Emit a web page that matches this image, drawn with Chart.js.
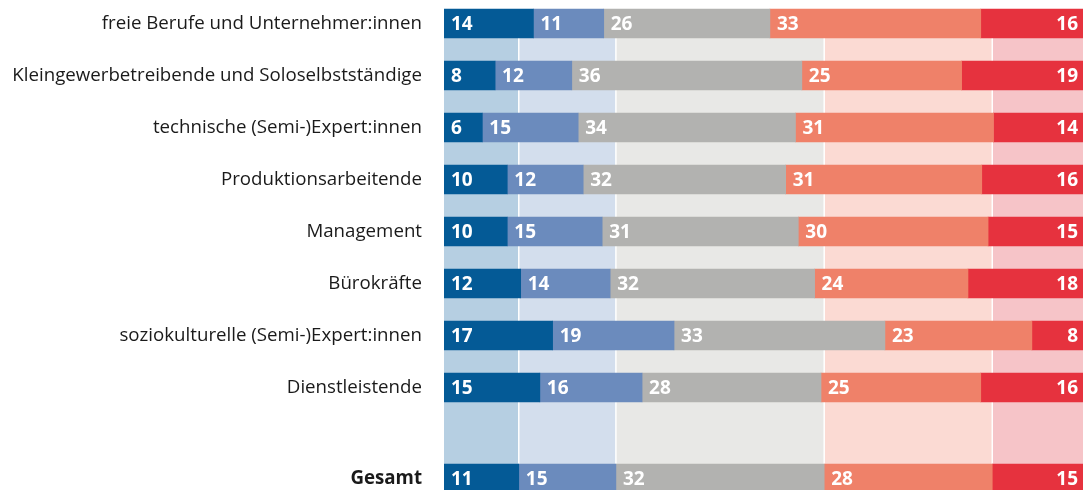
<!DOCTYPE html>
<html>
<head>
<meta charset="utf-8">
<script src="https://cdn.jsdelivr.net/npm/chart.js@4"></script>
<style>
  html, body { margin: 0; padding: 0; background: #fff; }
  #wrap { width: 1083px; height: 490px; }
</style>
</head>
<body>
<div id="wrap"><canvas id="chart"></canvas></div>
<script>
// categories (top to bottom), last one is the total
const kategorien = [
  "freie Berufe und Unternehmer:innen",
  "Kleingewerbetreibende und Soloselbstständige",
  "technische (Semi-)Expert:innen",
  "Produktionsarbeitende",
  "Management",
  "Bürokräfte",
  "soziokulturelle (Semi-)Expert:innen",
  "Dienstleistende",
  "Gesamt"
];
// row positions on the y scale (gap before Gesamt)
const zeilen = [0, 1, 2, 3, 4, 5, 6, 7, 8.75];

// values in percent, one array per answer group (printed numbers)
const stufe1 = [14, 8, 6, 10, 10, 12, 17, 15, 11];
const stufe2 = [11, 12, 15, 12, 15, 14, 19, 16, 15];
const stufe3 = [26, 36, 34, 32, 31, 32, 33, 28, 32];
const stufe4 = [33, 25, 31, 31, 30, 24, 23, 25, 28];
const stufe5 = [16, 19, 14, 16, 15, 18, 8, 16, 15];
// the Gesamt bar is drawn wider/narrower than its printed numbers
const gesamtAnteile = [11.7, 15.2, 32.6, 26.3, 14.2];

const serien = [stufe1, stufe2, stufe3, stufe4, stufe5];
const farben = ["#045a96", "#6b8bbd", "#b2b2b0", "#ef8169", "#e6323e"];
const hell = ["#b6cfe2", "#d3deed", "#e8e8e6", "#fbdad3", "#f6c4c8"];
const dicke = 29;
const g = kategorien.length - 1;

// rows add up to 100 or 101, so scale every row to 100
const summen = kategorien.map((k, i) => serien.reduce((s, r) => s + r[i], 0));
function anteil(s, i) {
  if (i === g) return gesamtAnteile[s];
  return serien[s][i] / summen[i] * 100;
}

const datasets = serien.map((werte, s) => ({
  label: "Stufe " + (s + 1),
  data: werte.map((v, i) => ({ x: anteil(s, i), y: zeilen[i] })),
  backgroundColor: farben[s],
  borderWidth: 0,
  barThickness: dicke,
  werte: werte
}));

// light background columns taken from the Gesamt row
const baender = {
  id: "baender",
  beforeDatasetsDraw(chart) {
    const ctx = chart.ctx;
    const xs = chart.scales.x, ys = chart.scales.y;
    const oben = ys.getPixelForValue(zeilen[0]) - dicke / 2;
    const unten = chart.chartArea.bottom;
    let kum = 0;
    ctx.save();
    serien.forEach((r, s) => {
      const x0 = xs.getPixelForValue(kum);
      kum += anteil(s, g);
      const x1 = xs.getPixelForValue(kum);
      ctx.fillStyle = hell[s];
      ctx.fillRect(x0, oben, x1 - x0, unten - oben);
    });
    kum = 0;
    ctx.strokeStyle = "#ffffff";
    ctx.lineWidth = 1.5;
    for (let s = 0; s < 4; s++) {
      kum += anteil(s, g);
      const x = xs.getPixelForValue(kum);
      ctx.beginPath();
      ctx.moveTo(x, oben);
      ctx.lineTo(x, unten);
      ctx.stroke();
    }
    ctx.restore();
  }
};

// white numbers inside the segments
const zahlen = {
  id: "zahlen",
  afterDatasetsDraw(chart) {
    const ctx = chart.ctx;
    ctx.save();
    ctx.fillStyle = "#ffffff";
    ctx.font = "bold 19px 'Open Sans'";
    ctx.textBaseline = "middle";
    chart.data.datasets.forEach((ds, d) => {
      const meta = chart.getDatasetMeta(d);
      meta.data.forEach((bar, i) => {
        const txt = String(ds.werte[i]);
        if (d === chart.data.datasets.length - 1) {
          ctx.textAlign = "right";
          ctx.fillText(txt, bar.x - 5, bar.y + 1);
        } else {
          ctx.textAlign = "left";
          ctx.fillText(txt, Math.min(bar.base, bar.x) + 7, bar.y + 1);
        }
      });
    });
    ctx.restore();
  }
};

new Chart("chart", {
  type: "bar",
  data: { datasets: datasets },
  plugins: [baender, zahlen],
  options: {
    indexAxis: "y",
    responsive: true,
    maintainAspectRatio: false,
    animation: false,
    layout: { padding: 0 },
    plugins: { legend: { display: false }, tooltip: { enabled: false } },
    scales: {
      x: { display: false, stacked: true, min: 0, max: 100 },
      y: {
        type: "linear",
        stacked: true,
        reverse: true,
        offset: false,
        min: -0.452,
        max: 8.971,
        grid: { display: false, drawTicks: false },
        border: { display: false },
        afterBuildTicks(scale) {
          scale.ticks = zeilen.map(v => ({ value: v }));
        },
        afterFit(scale) {
          scale.width = 444;
          scale.paddingTop = 0;
          scale.paddingBottom = 0;
        },
        ticks: {
          autoSkip: false,
          padding: 22,
          color: "#1a1a1a",
          font: c => ({
            family: "'Open Sans'",
            size: 18.7,
            weight: c.index === g ? "bold" : "normal"
          }),
          callback: (v, i) => kategorien[i]
        }
      }
    }
  }
});
</script>
</body>
</html>
